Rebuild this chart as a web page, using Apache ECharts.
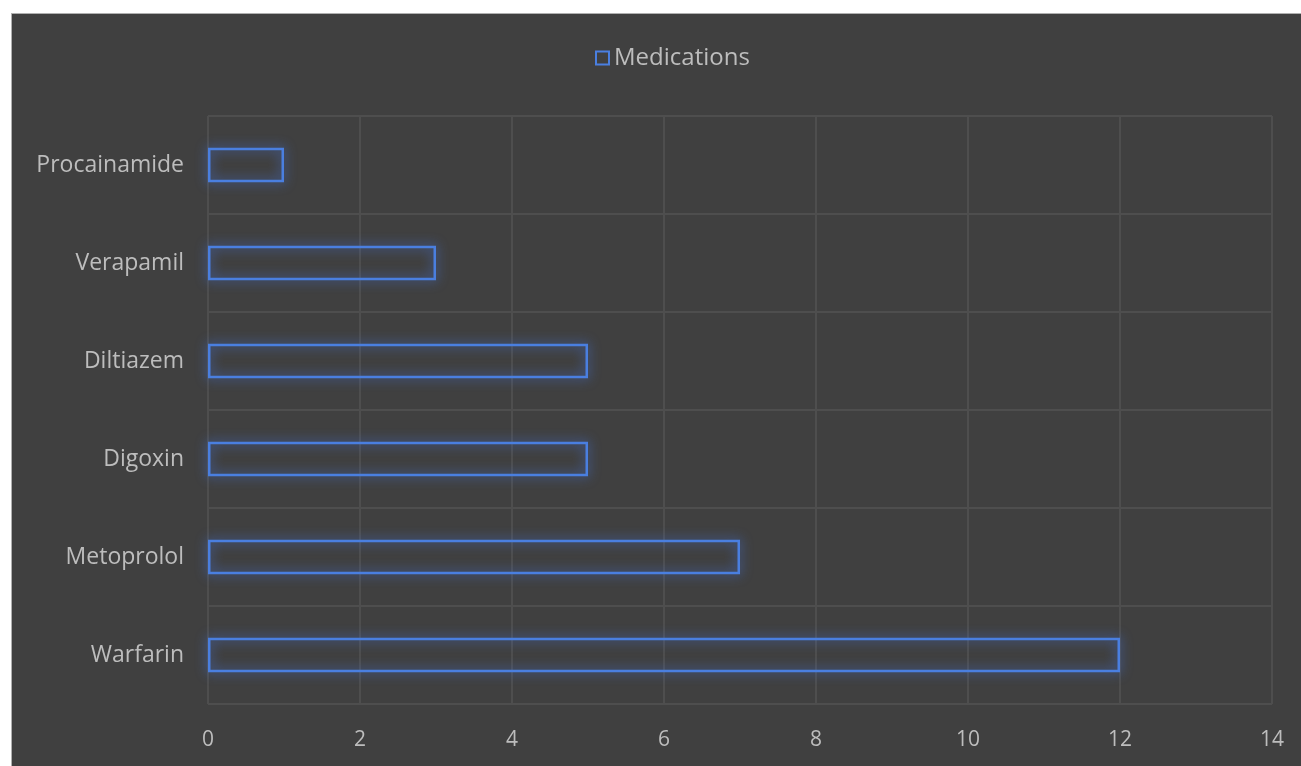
<!DOCTYPE html>
<html><head><meta charset="utf-8">
<script src="https://cdn.jsdelivr.net/npm/echarts@6/dist/echarts.min.js"></script>
<style>
html,body{margin:0;padding:0;background:#fff;width:1301px;height:766px;overflow:hidden;}
#c{position:absolute;left:11px;top:13px;width:1290px;height:753px;background:#404040;border-left:1px solid #b0b0b0;border-top:1px solid #b0b0b0;}
</style></head>
<body><div id="c"></div>
<script>
const categories = ["Warfarin","Metoprolol","Digoxin","Diltiazem","Verapamil","Procainamide"];
const values = [12,7,5,5,3,1];
const seriesName = "Medications";

const chart = echarts.init(document.getElementById('c'));
const txt = '#bdbdbd';
const gridColor = '#4e4e4e';
chart.setOption({
  backgroundColor:'#404040',
  animation:false,
  legend:{top:27,left:578,icon:'rect',itemWidth:13,itemHeight:13,itemGap:8,
    textStyle:{color:txt,fontSize:24,fontFamily:'Open Sans'},data:[seriesName]},
  grid:{left:196,right:30,top:102,bottom:63,containLabel:false},
  xAxis:{type:'value',min:0,max:14,interval:2,
    axisLine:{show:false},axisTick:{show:false},
    axisLabel:{color:txt,fontSize:21,margin:26,fontFamily:'Open Sans'},
    splitLine:{show:true,lineStyle:{color:gridColor,width:2}}},
  yAxis:{type:'category',data:categories,
    axisLine:{show:false},axisTick:{show:false},
    axisLabel:{color:txt,fontSize:23,margin:24,fontFamily:'Open Sans'},
    splitLine:{show:true,lineStyle:{color:gridColor,width:2}}},
  series:[{name:seriesName,type:'bar',data:values,barWidth:'35%',
    itemStyle:{color:'rgba(0,0,0,0)',borderColor:'#4a7fe0',borderWidth:2.5,
      shadowBlur:12,shadowColor:'rgba(70,120,235,0.95)'}}]
});
</script></body></html>
